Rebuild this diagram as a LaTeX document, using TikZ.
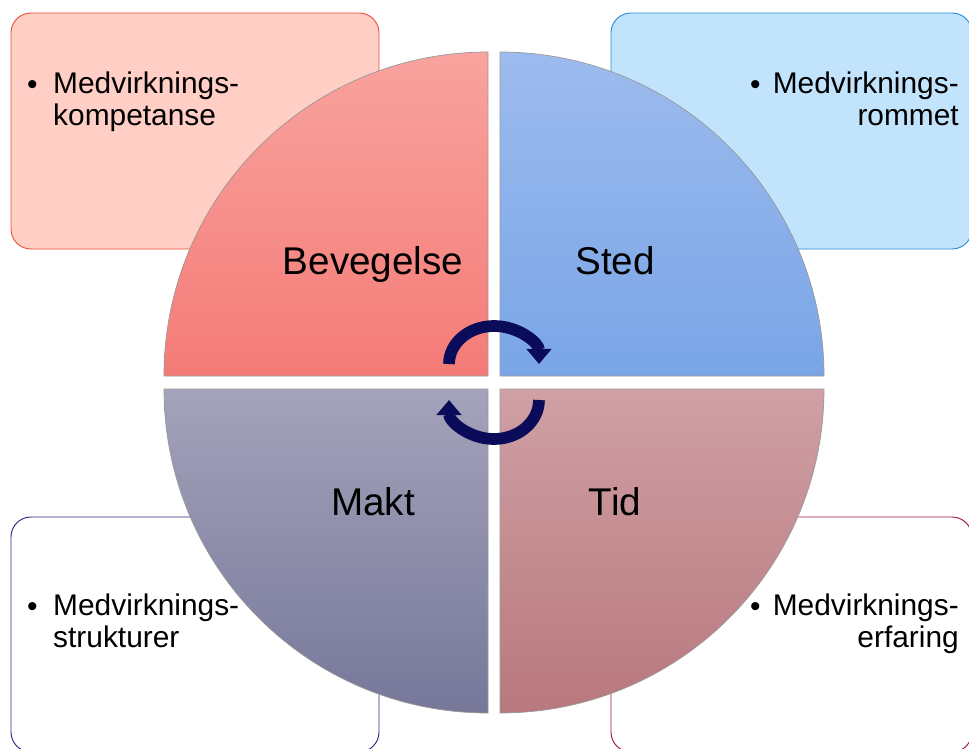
\documentclass[tikz,border=0pt]{standalone}
\usepackage{fontspec}
\setmainfont{Liberation Sans}
\definecolor{redfill}{RGB}{255,206,197}
\definecolor{redline}{RGB}{232,80,56}
\definecolor{bluefill}{RGB}{193,228,252}
\definecolor{blueline}{RGB}{40,140,215}
\definecolor{navyline}{RGB}{40,40,130}
\definecolor{wineline}{RGB}{160,20,60}
\definecolor{arrownavy}{RGB}{10,12,90}
\usetikzlibrary{arrows.meta}

\begin{document}
\begin{tikzpicture}[x=0.03cm, y=-0.03cm,
  ibox/.style={rounded corners=17pt, line width=0.8pt},
  quad/.style={draw=black!40, line width=0.6pt},
  qlabel/.style={anchor=base, inner sep=0pt, font=\fontsize{33}{36}\selectfont},
  itemtext/.style={inner sep=0pt, font=\fontsize{25.5}{26.5}\selectfont},
  cyc/.style={draw=arrownavy, line width=10pt, -{Triangle[width=21pt,length=13pt]}}
]
\clip (0,0) rectangle (969,749);

% Boxes
\draw[ibox, draw=redline,  fill=redfill]  (11,13)  rectangle (379,249);
\draw[ibox, draw=blueline, fill=bluefill] (611,13) rectangle (972,249);
\draw[ibox, draw=navyline, fill=white]    (11,517) rectangle (379,752);
\draw[ibox, draw=wineline, fill=white]    (611,517) rectangle (972,752);

% Box texts (base = last line)
\node[itemtext, anchor=base west] (b1) at (27,94)  {•};
\node[itemtext, anchor=base west, align=left] (t1) at (53,125) {Medvirknings-\\kompetanse};
\node[itemtext, anchor=base west] (b2) at (750,94) {•};
\node[itemtext, anchor=base east, align=right] (t2) at (959,125) {Medvirknings-\\rommet};
\node[itemtext, anchor=base west] (b3) at (27,616) {•};
\node[itemtext, anchor=base west, align=left] (t3) at (53,647) {Medvirknings-\\strukturer};
\node[itemtext, anchor=base west] (b4) at (750,616) {•};
\node[itemtext, anchor=base east, align=right] (t4) at (959,647) {Medvirknings-\\erfaring};

% Quarter discs
\path[quad, top color={rgb,255:red,249;green,163;blue,158}, bottom color={rgb,255:red,244;green,123;blue,119}]
  (488,376) -- (488,52) arc[start angle=270, end angle=180, radius=324] -- cycle;
\path[quad, top color={rgb,255:red,157;green,187;blue,238}, bottom color={rgb,255:red,121;green,165;blue,230}]
  (500,376) -- (500,52) arc[start angle=270, end angle=360, radius=324] -- cycle;
\path[quad, top color={rgb,255:red,163;green,163;blue,187}, bottom color={rgb,255:red,119;green,119;blue,154}]
  (488,389) -- (488,713) arc[start angle=90, end angle=180, radius=324] -- cycle;
\path[quad, top color={rgb,255:red,207;green,160;blue,164}, bottom color={rgb,255:red,184;green,120;blue,126}]
  (500,389) -- (500,713) arc[start angle=90, end angle=0, radius=324] -- cycle;

% Labels
\node[qlabel] (bev)  at (373,274) {Bevegelse};
\node[qlabel] (sted) at (615,274) {Sted};
\node[qlabel] (makt) at (373,515) {Makt};
\node[qlabel] (tid)  at (615,515) {Tid};

% Cycle arrows
\draw[cyc] (449,364) arc[start angle=180, end angle=360, x radius=45, y radius=38];
\draw[cyc] (539,400) arc[start angle=0, end angle=180, x radius=45, y radius=39];
\end{tikzpicture}
\end{document}
